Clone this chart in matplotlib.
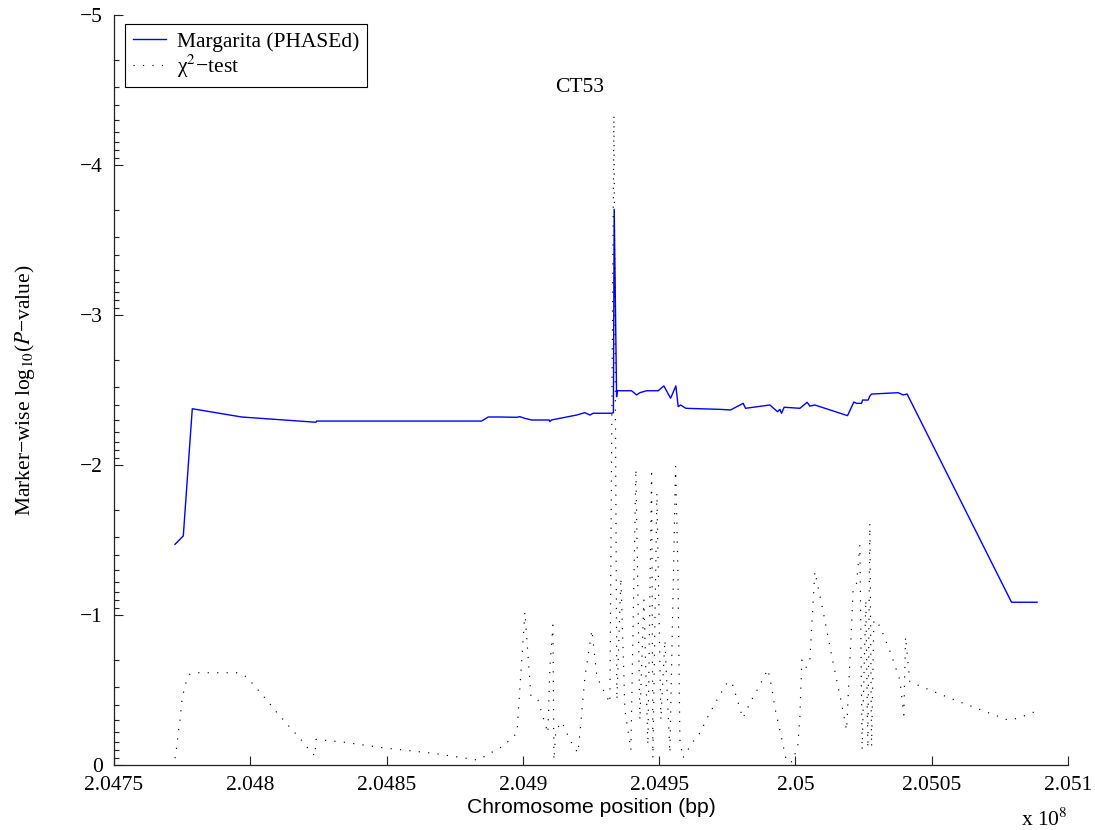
import numpy as np
import matplotlib
matplotlib.use("Agg")
import matplotlib.pyplot as plt
from matplotlib.ticker import FixedLocator, FuncFormatter

plt.rcParams["mathtext.fontset"] = "stix"
plt.rcParams["axes.unicode_minus"] = True

SERIF = "Liberation Serif"
SANS = "Liberation Sans"
FS = 15.5

# Margarita (PHASEd) marker-wise log10 P-values
marg_pos = [204772375, 204775419, 204778720, 204796840, 204824094, 204824350,
            204884872, 204887293, 204891585, 204897710, 204898921, 204900755,
            204903212, 204909668, 204909925, 204910475, 204919718, 204922763,
            204924597, 204925807, 204932556, 204933217, 204933510, 204934390,
            204934610, 204939892, 204941726, 204942937, 204945394, 204949649,
            204951740, 204954198, 204956142, 204956985, 204957866, 204959810,
            204972281, 204976205, 204980827, 204981708, 204990621, 204993445,
            204994289, 204994912, 204995866, 205001625, 205004302, 205005293,
            205007127, 205019121, 205021432, 205022422, 205024256, 205024623,
            205026677, 205027301, 205027924, 205037681, 205039515, 205040982,
            205079276, 205088666]
marg_logp = [-1.471, -1.527, -2.375, -2.320, -2.285, -2.293,
             -2.293, -2.320, -2.320, -2.318, -2.322, -2.311,
             -2.300, -2.300, -2.289, -2.300, -2.333, -2.349,
             -2.333, -2.345, -2.345, -2.349, -3.705, -2.455,
             -2.495, -2.495, -2.467, -2.482, -2.495, -2.495,
             -2.527, -2.445, -2.527, -2.389, -2.400, -2.378,
             -2.371, -2.367, -2.411, -2.378, -2.400, -2.355,
             -2.371, -2.345, -2.385, -2.378, -2.418, -2.393,
             -2.400, -2.329, -2.420, -2.411, -2.411, -2.433,
             -2.433, -2.460, -2.473, -2.482, -2.467, -2.473,
             -1.085, -1.085]

# single-marker chi-square test
chi_pos = [204772375, 204773108, 204773475, 204774209, 204774942, 204776043,
           204777877, 204781178, 204795116, 204798051, 204800618, 204805387,
           204809788, 204814557, 204818958, 204821159, 204823727, 204824094,
           204833997, 204848669, 204867009, 204883515, 204889017, 204892318,
           204895253, 204897820, 204900755, 204902956, 204905523, 204909191,
           204909925, 204911025, 204911392, 204912126, 204914326, 204917261,
           204920195, 204920929, 204922763, 204925330, 204927164, 204930099,
           204931933, 204933400, 204934500, 204935968, 204937435, 204939636,
           204941470, 204942937, 204944404, 204945871, 204947229, 204947705,
           204949172, 204950639, 204952107, 204953941, 204956032, 204956875,
           204957608, 204958708, 204962377, 204964945, 204967879, 204971547,
           204974848, 204976572, 204977783, 204980717, 204983285, 204986953,
           204989887, 204991354, 204992455, 204994289, 204996746, 204998947,
           205000891, 205001625, 205002358, 205003826, 205005293, 205007127,
           205010061, 205013362, 205016920, 205018754, 205020588, 205021175,
           205022422, 205023633, 205024476, 205025834, 205026567, 205027301,
           205027924, 205028768, 205030968, 205034894, 205038305, 205039772,
           205040396, 205041973, 205048575, 205058479, 205071317, 205077919,
           205081587, 205087823]
chi_logp = [-0.045, -0.133, -0.200, -0.300, -0.433, -0.533,
            -0.607, -0.615, -0.615, -0.593, -0.547, -0.447,
            -0.349, -0.251, -0.162, -0.111, -0.060, -0.171,
            -0.153, -0.115, -0.078, -0.033, -0.089, -0.122,
            -0.167, -0.213, -1.020, -0.460, -0.433, -0.213,
            -0.653, -0.933, -0.033, -0.233, -0.287, -0.167,
            -0.080, -0.213, -0.587, -0.900, -0.587, -0.480,
            -0.413, -4.333, -0.433, -1.247, -0.367, -0.100,
            -1.973, -0.300, -1.100, -0.133, -1.973, -0.047,
            -1.813, -0.300, -0.833, -0.080, -1.990, -1.313,
            -0.167, -0.047, -0.155, -0.213, -0.322, -0.445,
            -0.545, -0.555, -0.487, -0.311, -0.413, -0.533,
            -0.638, -0.513, -0.380, -0.233, -0.022, -0.022,
            -0.133, -0.322, -0.700, -0.647, -0.700, -1.289,
            -1.033, -0.722, -0.411, -0.233, -0.922, -1.178,
            -1.211, -1.467, -0.100, -1.100, -0.113, -1.611,
            -0.122, -0.967, -0.927, -0.749, -0.567, -0.333,
            -0.855, -0.555, -0.505, -0.433, -0.345, -0.300,
            -0.311, -0.355]

x_ticks = [2.0475e8, 2.048e8, 2.0485e8, 2.049e8, 2.0495e8, 2.05e8, 2.0505e8, 2.051e8]
y_ticks = [0, -1, -2, -3, -4, -5]
peak_label = "CT53"
peak_label_pos = (2.04921e8, -4.52)

fig = plt.figure(figsize=(10.95, 8.30), dpi=100)
ax = fig.add_axes([114 / 1095, 1 - 765 / 830, (1068 - 114) / 1095, (765 - 15) / 830])

ax.plot(marg_pos, marg_logp, color=(0, 0, 1), lw=1.0, label="Margarita (PHASEd)")
ax.plot(chi_pos, chi_logp, color="black", lw=0.85, linestyle=(0, (1, 7)),
        label=r"χ$^{2}$−test")

ax.set_xlim(2.0475e8, 2.051e8)
ax.set_ylim(0, -5)

for side in ("top", "right"):
    ax.spines[side].set_visible(False)
for side in ("left", "bottom"):
    ax.spines[side].set_linewidth(0.9)
    ax.spines[side].set_color("#222222")

ax.xaxis.set_major_locator(FixedLocator(x_ticks))
ax.xaxis.set_major_formatter(FuncFormatter(lambda v, p: "%g" % (v / 1e8)))
ax.yaxis.set_major_locator(FixedLocator(y_ticks))
minor = [-n + np.log10(k) for n in range(1, 6) for k in range(2, 10)]
ax.yaxis.set_minor_locator(FixedLocator(minor))

ax.tick_params(axis="both", which="major", direction="in", length=6.5, width=0.8,
               color="#222222", labelsize=FS)
ax.tick_params(axis="y", which="minor", direction="in", length=3.3, width=0.8,
               color="#222222")
ax.tick_params(axis="y", which="major", pad=8)
ax.tick_params(axis="x", which="major", pad=8)
for lab in ax.get_xticklabels() + ax.get_yticklabels():
    lab.set_fontfamily(SERIF)

ax.set_xlabel("Chromosome position (bp)", fontfamily=SANS, fontsize=15.2, labelpad=2)
ax.set_ylabel(r"Marker−wise log$_{10}$($P$−value)", fontfamily=SERIF, fontsize=FS)
ax.yaxis.set_label_coords(-0.081, 0.5)

fig.text(1021 / 1095, 1 - 826 / 830, r"x 10$^{8}$", fontfamily=SERIF, fontsize=FS,
         ha="left", va="baseline")

ax.text(peak_label_pos[0], peak_label_pos[1], peak_label, fontfamily=SERIF,
        fontsize=FS, ha="center", va="center")

leg = ax.legend(loc="upper left", bbox_to_anchor=(11 / 954, 1 - 9 / 750),
                borderaxespad=0, fancybox=False, framealpha=1, edgecolor="black",
                prop={"family": SERIF, "size": FS}, handlelength=1.55,
                handletextpad=0.5, borderpad=0.35, labelspacing=0.05)
leg.get_frame().set_linewidth(0.8)

fig.savefig("out.png", dpi=100)
